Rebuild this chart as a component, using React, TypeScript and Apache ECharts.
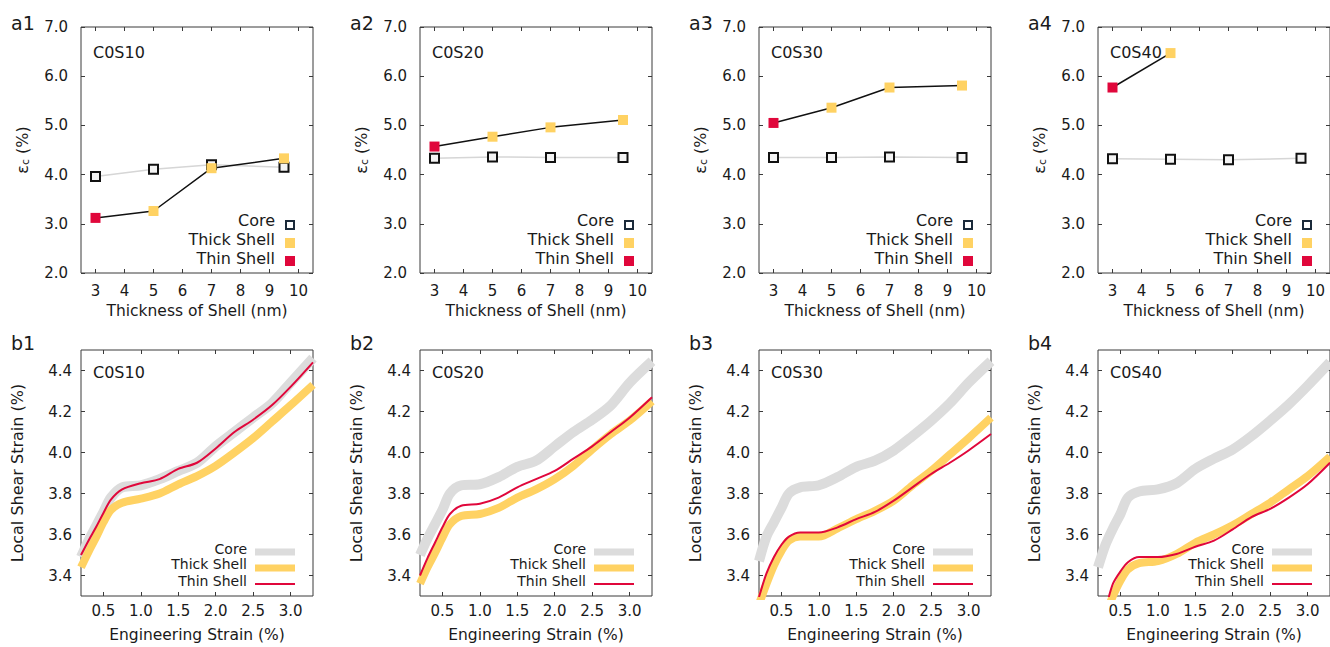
import React, { useEffect, useRef } from 'react';
import * as echarts from 'echarts';

// ---------- data ----------
const topPanelLabels = ['a1', 'a2', 'a3', 'a4'];
const bottomPanelLabels = ['b1', 'b2', 'b3', 'b4'];
const sampleNames = ['C0S10', 'C0S20', 'C0S30', 'C0S40'];

const shellThickness = [3, 5, 7, 9.5];
const coreCritical = [
  [3.96, 4.11, 4.2, 4.15],
  [4.33, 4.36, 4.35, 4.35],
  [4.35, 4.35, 4.36, 4.35],
  [4.32, 4.31, 4.3, 4.33],
];
const shellCritical = [
  [3.12, 3.26, 4.13, 4.33],
  [4.57, 4.77, 4.96, 5.11],
  [5.05, 5.36, 5.77, 5.81],
  [5.77, 6.47],
];
const shellKind = ['Thin Shell', 'Thick Shell', 'Thick Shell', 'Thick Shell'];

const thicknessTicks = [3, 4, 5, 6, 7, 8, 9, 10];
const strainTicks = [0.5, 1.0, 1.5, 2.0, 2.5, 3.0];
const shearTicks = [3.4, 3.6, 3.8, 4.0, 4.2, 4.4];

const engStrain = [0.2, 0.3, 0.4, 0.5, 0.6, 0.75, 1.0, 1.25, 1.5, 1.75, 2.0, 2.25, 2.5, 2.75, 3.0, 3.3];
const coreShear = [
  [3.49, 3.57, 3.64, 3.71, 3.78, 3.83, 3.84, 3.87, 3.91, 3.95, 4.03, 4.1, 4.17, 4.24, 4.34, 4.46],
  [3.5, 3.58, 3.65, 3.72, 3.8, 3.84, 3.845, 3.88, 3.93, 3.96, 4.03, 4.1, 4.16, 4.23, 4.34, 4.445],
  [3.47, 3.59, 3.66, 3.73, 3.8, 3.83, 3.84, 3.88, 3.93, 3.96, 4.01, 4.08, 4.155, 4.24, 4.34, 4.445],
  [3.44, 3.55, 3.63, 3.7, 3.78, 3.81, 3.82, 3.85, 3.92, 3.97, 4.015, 4.08, 4.155, 4.235, 4.325, 4.44],
];
const thickShear = [
  [3.44, 3.515, 3.585, 3.66, 3.72, 3.755, 3.775, 3.8, 3.845, 3.885, 3.935, 4.0, 4.07, 4.15, 4.23, 4.33],
  [3.36, 3.44, 3.51, 3.585, 3.65, 3.69, 3.7, 3.73, 3.78, 3.82, 3.87, 3.935, 4.015, 4.09, 4.155, 4.25],
  [3.26, 3.36, 3.45, 3.52, 3.57, 3.59, 3.59, 3.63, 3.675, 3.715, 3.765, 3.84, 3.91, 3.99, 4.07, 4.17],
  [3.12, 3.21, 3.3, 3.375, 3.43, 3.46, 3.47, 3.505, 3.56, 3.6, 3.645, 3.7, 3.755, 3.82, 3.885, 3.98],
];
const thinShear = [
  [3.5, 3.57, 3.635, 3.705, 3.77, 3.82, 3.85, 3.87, 3.92, 3.95, 4.02, 4.1, 4.16, 4.23, 4.32, 4.44],
  [3.4, 3.485, 3.56, 3.635, 3.7, 3.74, 3.75, 3.78, 3.83, 3.87, 3.91, 3.97, 4.03, 4.1, 4.17, 4.27],
  [3.295, 3.41, 3.49, 3.55, 3.59, 3.61, 3.61, 3.635, 3.675, 3.71, 3.765, 3.83, 3.895, 3.95, 4.01, 4.09],
  [3.15, 3.24, 3.36, 3.42, 3.465, 3.49, 3.49, 3.505, 3.54, 3.57, 3.625, 3.685, 3.725, 3.78, 3.845, 3.95],
];

// ---------- style ----------
const FONT = 'DejaVu Sans';
const TXT = '#1a1a1a';
const FRAME = '#3a3a3a';
const YELLOW = '#ffd263';
const RED = '#e0073b';
const GRAY_BAND = '#dcdcdc';
const GRID_LEFTS = [81, 420, 759, 1098];
const GRID_W = 232;
const GRID_H = 246;
const TOP_Y = 27;
const BOT_Y = 350;

function buildOption() {
  const grid: any[] = [];
  const xAxis: any[] = [];
  const yAxis: any[] = [];
  const series: any[] = [];
  const graphic: any[] = [];

  const tickStyle = (vals: number[]) => ({
    show: true,
    inside: true,
    length: 4,
    customValues: vals,
    lineStyle: { color: FRAME, width: 1 },
  });

  const addPanel = (
    top: number,
    left: number,
    xr: [number, number],
    yr: [number, number],
    xTicks: number[],
    yTicks: number[],
    xFmt: (v: number) => string,
    xName: string,
    yName: string,
    yNameGap: number,
    xNameGap: number,
    xMargin: number,
    yMargin: number,
    yNameStyle: any
  ) => {
    const gi = grid.length;
    grid.push({
      left,
      top,
      width: GRID_W,
      height: GRID_H,
      show: true,
      borderColor: FRAME,
      borderWidth: 1,
      backgroundColor: 'transparent',
    });
    xAxis.push({
      gridIndex: gi,
      type: 'value',
      min: xr[0],
      max: xr[1],
      position: 'bottom',
      axisLine: { show: false },
      axisTick: tickStyle(xTicks),
      axisLabel: {
        customValues: xTicks,
        formatter: xFmt,
        fontFamily: FONT,
        fontSize: 15,
        color: TXT,
        margin: xMargin,
      },
      splitLine: { show: false },
      name: xName,
      nameLocation: 'middle',
      nameGap: xNameGap,
      nameTextStyle: { fontFamily: FONT, fontSize: 15.5, color: TXT },
    });
    xAxis.push({
      gridIndex: gi,
      type: 'value',
      min: xr[0],
      max: xr[1],
      position: 'top',
      axisLine: { show: false },
      axisTick: tickStyle(xTicks),
      axisLabel: { show: false, customValues: xTicks },
      splitLine: { show: false },
    });
    yAxis.push({
      gridIndex: gi,
      type: 'value',
      min: yr[0],
      max: yr[1],
      position: 'left',
      axisLine: { show: false },
      axisTick: tickStyle(yTicks),
      axisLabel: {
        customValues: yTicks,
        formatter: (v: number) => v.toFixed(1),
        fontFamily: FONT,
        fontSize: 15,
        color: TXT,
        margin: yMargin,
      },
      splitLine: { show: false },
      name: yName,
      nameLocation: 'middle',
      nameGap: yNameGap,
      nameTextStyle: yNameStyle,
    });
    yAxis.push({
      gridIndex: gi,
      type: 'value',
      min: yr[0],
      max: yr[1],
      position: 'right',
      axisLine: { show: false },
      axisTick: tickStyle(yTicks),
      axisLabel: { show: false, customValues: yTicks },
      splitLine: { show: false },
    });
    return gi;
  };

  // ----- top row -----
  for (let p = 0; p < 4; p++) {
    const left = GRID_LEFTS[p];
    const gi = addPanel(
      TOP_Y,
      left,
      [2.5, 10.5],
      [2, 7],
      thicknessTicks,
      [2, 3, 4, 5, 6, 7],
      (v: number) => String(v),
      'Thickness of Shell (nm)',
      'ε{s|c} (%)',
      50,
      30,
      10,
      13,
      {
        fontFamily: FONT,
        fontSize: 16,
        color: TXT,
        rich: { s: { fontFamily: FONT, fontSize: 11, color: TXT, padding: [7, 0, 0, 0] } },
      }
    );
    series.push({
      type: 'line',
      name: 'Core',
      xAxisIndex: gi * 2,
      yAxisIndex: gi * 2,
      data: coreCritical[p].map((v, i) => [shellThickness[i], v]),
      lineStyle: { color: '#d6d6d6', width: 1.5 },
      symbol: 'rect',
      symbolSize: 9,
      itemStyle: { color: '#f4f4f4', borderColor: '#111', borderWidth: 2 },
      z: 2,
    });
    series.push({
      type: 'line',
      name: 'Shell',
      xAxisIndex: gi * 2,
      yAxisIndex: gi * 2,
      data: shellCritical[p].map((v, i) => ({
        value: [shellThickness[i], v],
        itemStyle: { color: shellKind[i] === 'Thin Shell' ? RED : YELLOW, borderWidth: 0 },
      })),
      lineStyle: { color: '#111', width: 1.5 },
      symbol: 'rect',
      symbolSize: 10,
      z: 3,
    });
    const right = left + GRID_W;
    graphic.push({
      type: 'text',
      style: { text: topPanelLabels[p], x: left - 70, y: 23, font: `19px "${FONT}"`, fill: TXT, textVerticalAlign: 'middle' },
    });
    graphic.push({
      type: 'text',
      style: { text: sampleNames[p], x: left + 12, y: TOP_Y + 25, font: `16px "${FONT}"`, fill: TXT, textVerticalAlign: 'middle' },
    });
    const legendNames = ['Core', 'Thick Shell', 'Thin Shell'];
    const ty = [193, 212, 231];
    legendNames.forEach((n, k) => {
      graphic.push({
        type: 'text',
        style: { text: n, x: right - 38, y: TOP_Y + ty[k], font: `16px "${FONT}"`, fill: TXT, textAlign: 'right', textVerticalAlign: 'middle' },
      });
    });
    graphic.push({
      type: 'rect',
      shape: { x: right - 27, y: TOP_Y + 198 - 4, width: 8, height: 8 },
      style: { fill: '#fff', stroke: '#1b2a3a', lineWidth: 2 },
    });
    graphic.push({
      type: 'rect',
      shape: { x: right - 28, y: TOP_Y + 216 - 5, width: 10, height: 10 },
      style: { fill: YELLOW },
    });
    graphic.push({
      type: 'rect',
      shape: { x: right - 28, y: TOP_Y + 234 - 5, width: 10, height: 10 },
      style: { fill: RED },
    });
  }

  // ----- bottom row -----
  for (let p = 0; p < 4; p++) {
    const left = GRID_LEFTS[p];
    const gi = addPanel(
      BOT_Y,
      left,
      [0.2, 3.3],
      [3.3, 4.5],
      strainTicks,
      shearTicks,
      (v: number) => v.toFixed(1),
      'Engineering Strain (%)',
      'Local Shear Strain (%)',
      56,
      31,
      7,
      9,
      { fontFamily: FONT, fontSize: 16, color: TXT }
    );
    series.push({
      type: 'line',
      name: 'Core',
      xAxisIndex: gi * 2,
      yAxisIndex: gi * 2,
      data: engStrain.map((x, i) => [x, coreShear[p][i]]),
      lineStyle: { color: GRAY_BAND, width: 10 },
      symbol: 'none',
      smooth: 0.3,
      clip: true,
      z: 2,
    });
    series.push({
      type: 'line',
      name: 'Thick Shell',
      xAxisIndex: gi * 2,
      yAxisIndex: gi * 2,
      data: engStrain.map((x, i) => [x, thickShear[p][i]]),
      lineStyle: { color: YELLOW, width: 8 },
      symbol: 'none',
      smooth: 0.3,
      clip: true,
      z: 3,
    });
    series.push({
      type: 'line',
      name: 'Thin Shell',
      xAxisIndex: gi * 2,
      yAxisIndex: gi * 2,
      data: engStrain.map((x, i) => [x, thinShear[p][i]]),
      lineStyle: { color: RED, width: 2 },
      symbol: 'none',
      smooth: 0.3,
      clip: true,
      z: 4,
    });
    const right = left + GRID_W;
    graphic.push({
      type: 'text',
      style: { text: bottomPanelLabels[p], x: left - 70, y: 343, font: `19px "${FONT}"`, fill: TXT, textVerticalAlign: 'middle' },
    });
    graphic.push({
      type: 'text',
      style: { text: sampleNames[p], x: left + 12, y: BOT_Y + 22, font: `16px "${FONT}"`, fill: TXT, textVerticalAlign: 'middle' },
    });
    const legendNames = ['Core', 'Thick Shell', 'Thin Shell'];
    const ty = [199, 214, 231];
    const ly = [202, 218, 234];
    const lc = [GRAY_BAND, YELLOW, RED];
    const lw = [7, 7, 2];
    legendNames.forEach((n, k) => {
      graphic.push({
        type: 'text',
        style: { text: n, x: right - 66, y: BOT_Y + ty[k], font: `14px "${FONT}"`, fill: TXT, textAlign: 'right', textVerticalAlign: 'middle' },
      });
      graphic.push({
        type: 'line',
        shape: { x1: right - 58, y1: BOT_Y + ly[k], x2: right - 18, y2: BOT_Y + ly[k] },
        style: { stroke: lc[k], lineWidth: lw[k] },
      });
    });
  }

  return {
    animation: false,
    backgroundColor: '#ffffff',
    textStyle: { fontFamily: FONT },
    grid,
    xAxis,
    yAxis,
    series,
    graphic,
  };
}

export default function App() {
  const ref = useRef<HTMLDivElement>(null);
  useEffect(() => {
    if (!ref.current) return;
    const chart = echarts.init(ref.current, undefined, { renderer: 'svg' });
    chart.setOption(buildOption() as any);
    return () => chart.dispose();
  }, []);
  return (
    <div
      ref={ref}
      style={{ position: 'fixed', left: 0, top: 0, width: 1330, height: 647, background: '#fff' }}
    />
  );
}
